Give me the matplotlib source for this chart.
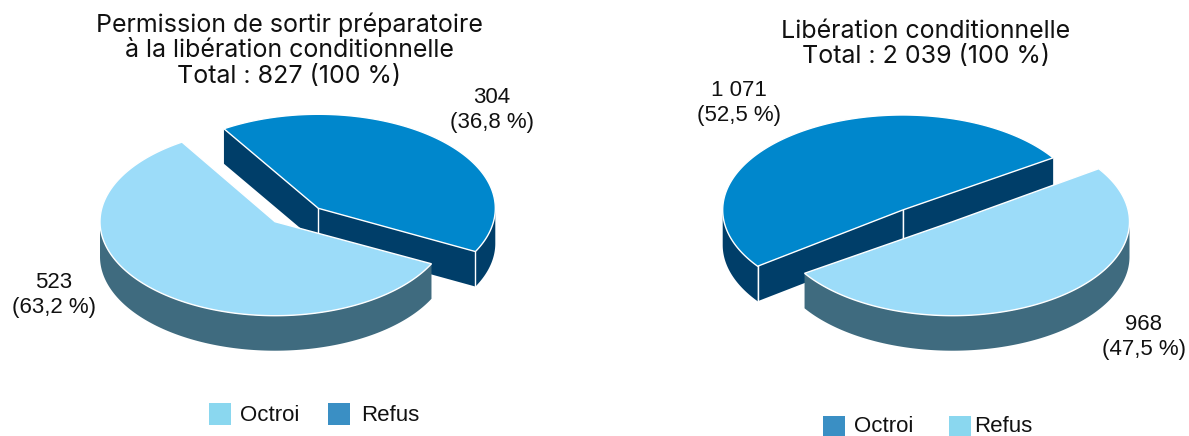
import numpy as np
import matplotlib
matplotlib.use('Agg')
import matplotlib.pyplot as plt
from matplotlib.patches import Polygon, Rectangle

plt.rcParams['font.family'] = ['Liberation Sans', 'DejaVu Sans']

left_title = 'Permission de sortir préparatoire\nà la libération conditionnelle\nTotal : 827 (100 %)'
right_title = 'Libération conditionnelle\nTotal : 2 039 (100 %)'
left_values = [523, 304]
right_values = [1071, 968]
left_labels = ['523\n(63,2 %)', '304\n(36,8 %)']
right_labels = ['1 071\n(52,5 %)', '968\n(47,5 %)']
legend_names = ['Octroi', 'Refus']

LIGHT = '#9CDCF9'
LIGHT_SIDE = '#3F6B7F'
DARK = '#0087CC'
DARK_SIDE = '#003E69'
KEY_LIGHT = '#8AD7EF'
KEY_DARK = '#3A8FC4'
DEPTH = 35


def ring(t1, t2):
    return np.radians(np.linspace(t1, t2, 200))


def draw_slice(ax, center, rx, ry, t1, t2, top, side, show_cuts):
    cx, cy = center
    t = ring(t1, t2)
    xs = cx + rx * np.cos(t)
    ys = cy - ry * np.sin(t)

    # rim, only the part that faces the viewer
    front = np.sin(t) <= 0
    if front.any():
        rim_x = xs[front]
        rim_y = ys[front]
        pts = np.r_[np.c_[rim_x, rim_y], np.c_[rim_x, rim_y + DEPTH][::-1]]
        ax.add_patch(Polygon(pts, fc=side, ec='none', zorder=2))

    if show_cuts:
        for x, y in [(xs[0], ys[0]), (xs[-1], ys[-1])]:
            pts = [(cx, cy), (x, y), (x, y + DEPTH), (cx, cy + DEPTH)]
            ax.add_patch(Polygon(pts, fc=side, ec='none', zorder=2))
            if y > cy - 10:
                ax.plot([x, x], [y, y + DEPTH], color='white', lw=1, zorder=3)
        ax.plot([cx, cx], [cy, cy + DEPTH], color='white', lw=1, zorder=3)

    pts = np.r_[[[cx, cy]], np.c_[xs, ys]]
    ax.add_patch(Polygon(pts, fc=top, ec='white', lw=1, zorder=3))


def draw_pie(ax, values, dark_index, dark_center, dark_r, dark_start, light_center, light_r, stretch, light_shift):
    # the drawn shares are a bit off from the values in the source picture
    share = values[dark_index] / sum(values)
    sweep = 360 * share * stretch
    dark_end = dark_start + sweep
    draw_slice(ax, dark_center, dark_r[0], dark_r[1], dark_start, dark_end, DARK, DARK_SIDE, True)
    draw_slice(ax, light_center, light_r[0], light_r[1], dark_end + light_shift[0], dark_start + 360 + light_shift[1],
               LIGHT, LIGHT_SIDE, False)


def legend_key(ax, x, y, color, name, text_x, text_y):
    ax.add_patch(Rectangle((x, y), 22, 22, fc=color, ec='none'))
    ax.text(text_x, text_y, name, fontsize=16, va='center', ha='left', color='#111111')


fig = plt.figure(figsize=(11.89, 4.36), dpi=100)
ax = fig.add_axes([0, 0, 1, 1])
ax.set_xlim(0, 1189)
ax.set_ylim(436, 0)
ax.axis('off')

draw_pie(ax, left_values, 1, (318.3, 208.3), (177, 94), -27.4, (275, 221.7), (175, 94), 149.8 / 132.5, (-0.1, 0.8))
draw_pie(ax, right_values, 0, (902.7, 210), (180, 95), 33.3, (952.5, 221.7), (177, 94), 183 / 189.1, (-3, 1))

title_font = ['Inter', 'DejaVu Sans']
ax.text(289, 50, left_title, fontsize=18, family=title_font, ha='center', va='center', linespacing=1.14, color='#111111')
ax.text(926, 44, right_title, fontsize=18, family=title_font, ha='center', va='center', linespacing=1.14, color='#111111')

ax.text(54, 295, left_labels[0], fontsize=16, ha='center', va='center', color='#111111')
ax.text(492, 110, left_labels[1], fontsize=16, ha='center', va='center', color='#111111')
ax.text(739, 103, right_labels[0], fontsize=16, ha='center', va='center', color='#111111')
ax.text(1144, 337, right_labels[1], fontsize=16, ha='center', va='center', color='#111111')

legend_key(ax, 209, 403, KEY_LIGHT, legend_names[0], 240, 415)
legend_key(ax, 328, 403, KEY_DARK, legend_names[1], 361, 415)
legend_key(ax, 823, 416, KEY_DARK, legend_names[0], 854, 426)
legend_key(ax, 949, 416, KEY_LIGHT, legend_names[1], 974, 426)

fig.savefig('out.png', dpi=100)
